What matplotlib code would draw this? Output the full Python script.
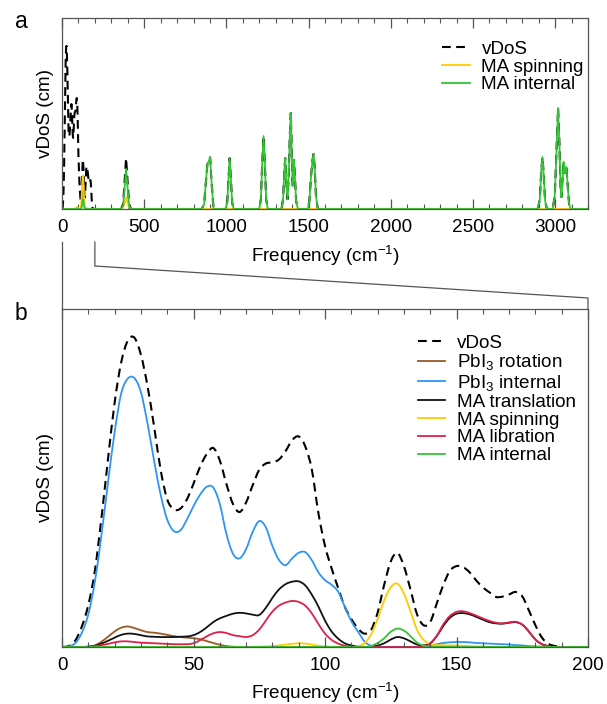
import numpy as np
import matplotlib
matplotlib.use("Agg")
import matplotlib.pyplot as plt
from matplotlib.lines import Line2D
from matplotlib.path import Path
from matplotlib.patches import PathPatch
from matplotlib.ticker import MultipleLocator

plt.rcParams['font.family'] = ['Liberation Sans', 'DejaVu Sans']
plt.rcParams['mathtext.fontset'] = 'custom'
plt.rcParams['mathtext.rm'] = 'Liberation Sans'
plt.rcParams['mathtext.it'] = 'Liberation Sans:italic'
plt.rcParams['mathtext.bf'] = 'Liberation Sans:bold'

# ---------------- data: low-frequency region (cm^-1), arbitrary units ----------------
freq_lo = [0, 2.5, 5, 7.5, 10, 12.5, 15, 17.5, 20, 22.5, 25, 27.5, 30, 32.5, 35, 37.5,
           40, 42.5, 45, 47.5, 50, 52.5, 55, 57.5, 60, 62.5, 65, 67.5, 70, 72.5, 75, 77.5,
           80, 82.5, 85, 87.5, 90, 92.5, 95, 97.5, 100, 102.5, 105, 107.5, 110, 112.5, 115,
           117.5, 120, 122.5, 125, 127.5, 130, 132.5, 135, 137.5, 140, 142.5, 145, 147.5,
           150, 152.5, 155, 157.5, 160, 162.5, 165, 167.5, 170, 172.5, 175, 177.5, 180,
           182.5, 185, 187.5, 190, 192.5, 195, 197.5, 200]

vdos_lo = [0, 0.3, 2.0, 6.5, 13.5, 24.5, 41.5, 60.5, 78.5, 91.5,
           98.5, 99.5, 94, 84, 71, 57, 47.5, 44.3, 44.5, 47.5,
           52.5, 58, 62, 64, 60, 52.5, 46, 43.4, 46.5, 52,
           57, 59, 59.4, 60.3, 63, 66.5, 67.7, 64.5, 57, 43,
           32.5, 25.3, 19, 13, 9, 6, 4.3, 5.5, 11, 20,
           27.5, 30.3, 26, 18.5, 10.5, 7, 8, 14, 20, 24.5,
           26, 25.7, 24, 21.4, 19.2, 17.6, 16.1, 16.2, 16.9, 17.7,
           16.3, 11.8, 7, 3, 1, 0.3, 0, 0, 0, 0, 0]

pbi3_rotation = [0, 0, 0, 0, 0.1, 0.5, 1.7, 3.3, 5.0, 6.2,
                 6.6, 6.1, 5.4, 4.8, 4.6, 4.3, 3.9, 3.5, 3.2, 3.0,
                 2.8, 2.5, 1.9, 1.3, 0.7, 0.3, 0.1, 0, 0, 0] + [0] * 51

pbi3_internal = [0, 0.2, 1.2, 4.5, 10.5, 21, 36, 53, 69, 81.5,
                 86.3, 86.5, 82, 72, 60, 49, 41, 37.3, 37.5, 41,
                 45.3, 49, 51.5, 51.3, 46, 36.4, 30, 28.5, 31.5, 37,
                 40.5, 38.5, 32.5, 28, 26.3, 28.5, 30.3, 30.5, 27.9, 24,
                 21.5, 20, 17.8, 13, 8.3, 5, 1.8, 0.4, 0.1, 0,
                 0, 0, 0, 0, 0, 0.2, 0.5, 0.9, 1.3, 1.5,
                 1.6, 1.6, 1.5, 1.3, 1.2, 1.1, 1.0, 0.9, 0.8, 0.6,
                 0.5, 0.3, 0.2, 0.1, 0, 0, 0, 0, 0, 0, 0]

ma_translation = [0, 0, 0, 0, 0.1, 0.4, 1.1, 2.0, 3.0, 3.9,
                  4.3, 4.2, 3.8, 3.4, 3.3, 3.2, 3.2, 3.2, 3.3, 3.4,
                  3.8, 4.8, 6.3, 8.0, 9.2, 10.0, 10.7, 11.0, 10.8, 10.4,
                  10.3, 12.6, 15.8, 18.5, 20.2, 21.0, 21.1, 19.8, 16.8, 13.0,
                  8.5, 5.0, 2.7, 1.2, 0.5, 0.2, 0.05, 0.1, 0.5, 1.2,
                  2.4, 3.2, 2.8, 1.8, 0.8, 0.5, 1.2, 3.5, 6.8, 9.4,
                  10.7, 10.9, 10.5, 9.7, 8.8, 8.0, 7.6, 7.5, 7.8, 8.0,
                  7.2, 5.0, 2.4, 0.9, 0.3, 0, 0, 0, 0, 0, 0]

ma_spinning = [0] * 30 + [0.1, 0.2, 0.3, 0.5, 0.8, 1.0, 1.2, 1.1, 0.8, 0.4,
                          0.2, 0.1, 0, 0, 0, 0.3, 1.2, 4.0, 9.0, 15.0,
                          19.2, 20.4, 17.2, 11.5, 5.5, 2.3, 0.9, 0.6, 0.6, 0.5,
                          0.5, 0.4, 0.3, 0.2, 0.2, 0.1] + [0] * 15

ma_libration = [0, 0, 0, 0, 0.1, 0.3, 0.6, 1.0, 1.5, 1.8,
                1.8, 1.6, 1.4, 1.3, 1.2, 1.1, 1.0, 0.9, 0.9, 0.9,
                1.2, 2.2, 3.4, 4.4, 4.8, 4.5, 3.8, 3.5, 3.2, 3.8,
                5.6, 8.5, 11.4, 13.3, 14.3, 14.8, 14.5, 13.3, 10.8, 7.4,
                4.3, 2.3, 1.1, 0.4, 0.1, 0, 0, 0, 0, 0,
                0, 0, 0, 0, 0, 0.2, 1.1, 3.6, 7.3, 10.0,
                11.3, 11.5, 10.9, 10.1, 9.2, 8.4, 7.8, 7.6, 7.9, 8.1,
                7.2, 5.0, 2.4, 0.9, 0.3, 0, 0, 0, 0, 0, 0]

ma_internal_lo = [0] * 47 + [0.3, 1.3, 2.8, 4.9, 5.9, 5.3, 3.5, 1.4, 0.4, 0.1] + [0] * 24

# ---------------- data: full range (panel a), above 200 cm^-1 ----------------
freq_hi = [200, 360, 372, 382, 390, 398, 408, 420,
           850, 865, 875, 885, 893, 901, 910, 922,
           995, 1005, 1013, 1020, 1027, 1035, 1045,
           1200, 1210, 1218, 1226, 1234, 1242, 1252,
           1335, 1345, 1352, 1358, 1364, 1372, 1380, 1386, 1392, 1398, 1403, 1410, 1416, 1424, 1435,
           1495, 1505, 1515, 1523, 1530, 1537, 1545, 1556,
           2895, 2907, 2916, 2923, 2930, 2939, 2950,
           2985, 2998, 3008, 3018, 3026, 3033, 3038, 3045, 3052, 3058, 3063, 3069, 3076, 3085, 3095, 3200]

vdos_hi = [0, 0, 3, 18, 31, 18, 3, 0,
           0, 3, 16, 28, 29, 31.5, 16, 0,
           0, 4, 19, 31, 19, 4, 0,
           0, 6, 28, 44.5, 28, 6, 0,
           0, 6, 22, 31, 18, 6, 22, 45, 58.5, 35, 14, 30, 22, 5, 0,
           0, 5, 20, 29, 33.5, 26, 8, 0,
           0, 6, 24, 31.7, 22, 5, 0,
           0, 8, 35, 61.6, 40, 14, 7.3, 18, 28.7, 22, 24, 25.6, 15, 3, 0, 0]

ma_internal_hi = [0, 0, 2, 14, 24.5, 14, 2, 0,
                  0, 3, 16, 28, 29, 31.5, 16, 0,
                  0, 4, 19, 31, 19, 4, 0,
                  0, 6, 28, 44.5, 28, 6, 0,
                  0, 6, 22, 31, 18, 6, 22, 45, 58.5, 35, 14, 30, 22, 5, 0,
                  0, 5, 20, 29, 33.5, 26, 8, 0,
                  0, 6, 24, 31.7, 22, 5, 0,
                  0, 8, 35, 61.6, 40, 14, 7.3, 18, 28.7, 22, 24, 25.6, 15, 3, 0, 0]

ma_spinning_hi = [0, 0, 1, 4, 7, 4, 1, 0] + [0] * 68

# ---------------- styling ----------------
C_VDOS = 'black'
C_ROT = '#9a5a24'
C_PBI = '#2f95f5'
C_TRANS = '#111111'
C_SPIN = '#ffcc00'
C_LIB = '#e0204a'
C_INT = '#33c433'
SPINE = '#555555'
FS = 13.6
DASH = (0, (4.2, 2.6))


def smooth_curve(ax, x, y, **kw):
    """Draw a smooth (Catmull-Rom as cubic Bezier) line through the data points."""
    x = np.asarray(x, float)
    y = np.asarray(y, float)
    px = np.concatenate([[x[0]], x, [x[-1]]])
    py = np.concatenate([[y[0]], y, [y[-1]]])
    verts = [(x[0], y[0])]
    codes = [Path.MOVETO]
    for i in range(1, len(px) - 2):
        c1 = (px[i] + (px[i + 1] - px[i - 1]) / 6.0, py[i] + (py[i + 1] - py[i - 1]) / 6.0)
        c2 = (px[i + 1] - (px[i + 2] - px[i]) / 6.0, py[i + 1] - (py[i + 2] - py[i]) / 6.0)
        verts += [c1, c2, (px[i + 1], py[i + 1])]
        codes += [Path.CURVE4] * 3
    patch = PathPatch(Path(verts, codes), fill=False, **kw)
    ax.add_patch(patch)
    return patch


fig = plt.figure(figsize=(6.07, 7.04), dpi=100)
W, H = 607.0, 704.0
ax1 = fig.add_axes([62 / W, 1 - 209 / H, 526 / W, 191 / H])
ax2 = fig.add_axes([62 / W, 1 - 647 / H, 526 / W, 338 / H])

# panel a
f_top = freq_lo + freq_hi[1:]
v_top = vdos_lo + vdos_hi[1:]
s_top = ma_spinning + ma_spinning_hi[1:]
i_top = ma_internal_lo + ma_internal_hi[1:]
ax1.plot(f_top, v_top, color=C_VDOS, lw=1.5, ls=DASH, label='vDoS')
ax1.plot(f_top, s_top, color=C_SPIN, lw=1.3, label='MA spinning')
ax1.plot(f_top, i_top, color=C_INT, lw=1.3, label='MA internal')
ax1.set_xlim(0, 3200)
ax1.set_ylim(0, 116.5)
ax1.xaxis.set_major_locator(MultipleLocator(500))
ax1.xaxis.set_minor_locator(MultipleLocator(100))

# panel b
series_b = [
    (vdos_lo, C_VDOS, 1.5, DASH, 'vDoS'),
    (pbi3_rotation, C_ROT, 1.3, '-', 'PbI$_3$ rotation'),
    (pbi3_internal, C_PBI, 1.3, '-', 'PbI$_3$ internal'),
    (ma_translation, C_TRANS, 1.3, '-', 'MA translation'),
    (ma_spinning, C_SPIN, 1.3, '-', 'MA spinning'),
    (ma_libration, C_LIB, 1.3, '-', 'MA libration'),
    (ma_internal_lo, C_INT, 1.3, '-', 'MA internal'),
]
handles_b = []
for vals, col, lw, ls, lab in series_b:
    smooth_curve(ax2, freq_lo, vals, edgecolor=col, lw=lw, linestyle=ls)
    handles_b.append(Line2D([], [], color=col, lw=lw, ls=ls, label=lab))
ax2.set_xlim(0, 200)
ax2.set_ylim(0, 108.7)
ax2.xaxis.set_major_locator(MultipleLocator(50))
ax2.xaxis.set_minor_locator(MultipleLocator(10))

for ax, lp in ((ax1, 5.5), (ax2, 5)):
    for s in ax.spines.values():
        s.set_color(SPINE)
        s.set_linewidth(0.9)
    ax.tick_params(axis='x', which='both', direction='in', top=True, bottom=True,
                   color=SPINE, labelsize=FS, pad=7.5)
    ax.tick_params(axis='x', which='major', length=7, width=0.9)
    ax.tick_params(axis='x', which='minor', length=3.8, width=0.8)
    ax.tick_params(axis='y', which='both', left=False, right=False, labelleft=False)
    ax.set_xlabel('Frequency (cm$^{-1}$)', fontsize=FS, labelpad=lp)
    ax.set_ylabel('vDoS (cm)', fontsize=FS, labelpad=6)

leg1 = ax1.legend(loc='upper left', bbox_to_anchor=(0.722, 0.882), frameon=False,
                  fontsize=FS, handlelength=1.5, handletextpad=0.6, labelspacing=0.03,
                  borderpad=0, borderaxespad=0)
leg2 = ax2.legend(handles=handles_b, loc='upper left', bbox_to_anchor=(0.677, 0.924),
                  frameon=False, fontsize=FS, handlelength=1.45, handletextpad=0.62,
                  labelspacing=0.03, borderpad=0, borderaxespad=0)

fig.text(15 / W, 1 - 22 / H, 'a', fontsize=16.5, va='center', ha='left')
fig.text(15 / W, 1 - 314 / H, 'b', fontsize=16.5, va='center', ha='left')

# zoom connector lines between panels
fig.canvas.draw()
to_fig = fig.transFigure.inverted()
xa0 = to_fig.transform(ax1.transData.transform((0, 0)))[0]
xa1 = to_fig.transform(ax1.transData.transform((200, 0)))[0]
xb0 = to_fig.transform(ax2.transData.transform((0, 0)))[0]
xb1 = to_fig.transform(ax2.transData.transform((200, 0)))[0]
y_start = 1 - 242 / H
y_knee = 1 - 266 / H
y_right = 1 - 298 / H
y_axtop = 1 - 309 / H
fig.add_artist(Line2D([xa0, xb0], [y_start, y_axtop], color=SPINE, lw=0.9))
fig.add_artist(Line2D([xa1, xa1, xb1, xb1], [y_start, y_knee, y_right, y_axtop],
                      color=SPINE, lw=0.9))

fig.savefig('out.png', dpi=100)
